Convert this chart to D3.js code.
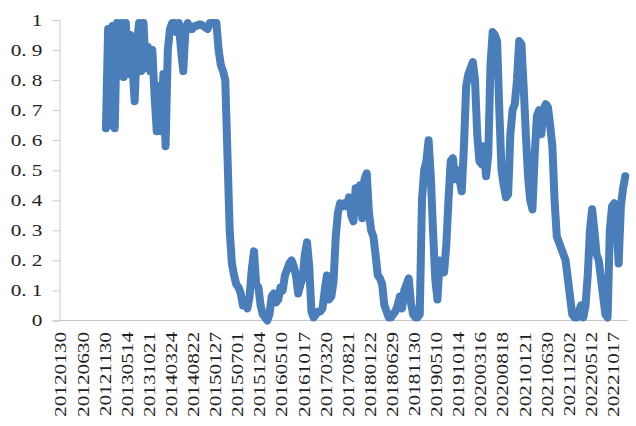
<!DOCTYPE html>
<html><head><meta charset="utf-8">
<script src="https://cdn.jsdelivr.net/npm/d3@7"></script>
<style>html,body{margin:0;padding:0;background:#fff;} svg{display:block;}</style>
</head><body><svg id="chart" width="636" height="426"></svg>
<script>
const dateLabels = ["20120130","20120630","20121130","20130514","20131021","20140324","20140822","20150127","20150701","20151204","20160510","20161017","20170320","20170821","20180122","20180629","20181130","20190510","20191014","20200316","20200818","20210121","20210630","20211202","20220512","20221017"];
const yTickValues = [0,0.1,0.2,0.3,0.4,0.5,0.6,0.7,0.8,0.9,1];
const yTickLabels = ["0","0. 1","0. 2","0. 3","0. 4","0. 5","0. 6","0. 7","0. 8","0. 9","1"];
const samplesPerLabel = 10;
const seriesStart = 21;
const seriesValues = [
0.64,0.97,0.65,0.98,0.64,0.99,0.85,0.99,0.81,0.99,
0.82,0.95,0.85,0.73,0.92,0.99,0.83,0.99,0.84,0.91,
0.83,0.90,0.75,0.63,0.78,0.63,0.82,0.58,0.90,0.97,
0.99,0.99,0.96,0.99,0.90,0.83,0.97,0.99,0.97,0.97,
0.98,0.98,0.985,0.985,0.98,0.975,0.97,0.99,0.99,0.99,
0.99,0.90,0.85,0.83,0.80,0.55,0.30,0.19,0.15,0.12,
0.11,0.09,0.05,0.06,0.04,0.08,0.17,0.23,0.12,0.11,
0.05,0.02,0.01,0.00,0.02,0.08,0.09,0.06,0.07,0.11,
0.10,0.15,0.17,0.19,0.20,0.18,0.15,0.09,0.12,0.14,
0.22,0.26,0.18,0.03,0.01,0.02,0.03,0.03,0.04,0.10,
0.15,0.07,0.08,0.13,0.28,0.36,0.39,0.38,0.39,0.38,
0.41,0.35,0.33,0.44,0.40,0.45,0.34,0.47,0.49,0.36,
0.30,0.28,0.22,0.15,0.14,0.12,0.05,0.03,0.01,0.01,
0.02,0.03,0.05,0.08,0.04,0.10,0.12,0.14,0.06,0.02,
0.01,0.01,0.02,0.40,0.50,0.53,0.60,0.48,0.30,0.14,
0.07,0.20,0.19,0.16,0.25,0.40,0.53,0.54,0.47,0.50,
0.47,0.43,0.58,0.78,0.82,0.84,0.86,0.80,0.62,0.53,
0.52,0.58,0.48,0.55,0.85,0.96,0.95,0.93,0.70,0.50,
0.45,0.41,0.42,0.62,0.70,0.72,0.80,0.93,0.92,0.78,
0.62,0.48,0.40,0.37,0.55,0.68,0.70,0.62,0.70,0.72,
0.71,0.65,0.58,0.40,0.28,0.26,0.24,0.22,0.20,0.14,
0.08,0.02,0.01,0.01,0.03,0.05,0.01,0.05,0.15,0.30,
0.37,0.30,0.22,0.20,0.14,0.08,0.02,0.01,0.30,0.38,
0.39,0.32,0.19,0.38,0.44,0.48
];

const svg = d3.select("#chart");
const plotLeft = 59.5, plotRight = 627.5, plotTop = 20, plotBottom = 320.5;
const xMax = 25.7;
const x = d3.scaleLinear().domain([0, xMax]).range([plotLeft, plotRight]);
const y = d3.scaleLinear().domain([0, 1]).range([plotBottom, plotTop]);
const axisColor = "#c8c8c8";
const textColor = "#222";
const fontFamily = "'Liberation Serif','Times New Roman',serif";
const fontSize = 17;
const stretch = 1.25;

// Y axis
const yAxis = d3.axisLeft(y).tickValues(yTickValues).tickSize(7).tickPadding(10)
  .tickFormat((d, i) => yTickLabels[i]);
const gy = svg.append("g").attr("transform", `translate(${plotLeft},0)`).call(yAxis);
gy.select(".domain").attr("stroke", axisColor).attr("stroke-width", 1);
gy.selectAll(".tick line").attr("stroke", axisColor);
gy.selectAll(".tick text")
  .attr("font-family", fontFamily).attr("font-size", fontSize).attr("fill", textColor)
  .each(function() {
    const t = d3.select(this);
    const xx = +t.attr("x");
    t.attr("x", null).attr("transform", `translate(${xx},0) scale(${stretch},1)`);
  });

// X axis (category labels)
const xAxis = d3.axisBottom(x).tickValues(d3.range(dateLabels.length)).tickSize(0).tickPadding(0)
  .tickFormat((d, i) => dateLabels[i]);
const gx = svg.append("g").attr("transform", `translate(0,${plotBottom})`).call(xAxis);
gx.select(".domain").attr("stroke", axisColor).attr("stroke-width", 1)
  .attr("d", `M${plotLeft},0H${plotRight}`);
gx.selectAll(".tick text")
  .attr("font-family", fontFamily).attr("font-size", fontSize).attr("fill", textColor)
  .attr("y", null).attr("dy", "0.35em").attr("text-anchor", "end")
  .attr("transform", `translate(0.5,11.5) rotate(-90) scale(${stretch},1)`);

// Line
const pts = seriesValues.map((v, i) => [(seriesStart + i) / samplesPerLabel, v]);
const line = d3.line().x(d => x(d[0])).y(d => y(d[1]));
svg.append("path").datum(pts)
  .attr("d", line)
  .attr("fill", "none")
  .attr("stroke", "#4a7ebb")
  .attr("stroke-width", 8)
  .attr("stroke-linejoin", "round")
  .attr("stroke-linecap", "round");
</script>
</body></html>
